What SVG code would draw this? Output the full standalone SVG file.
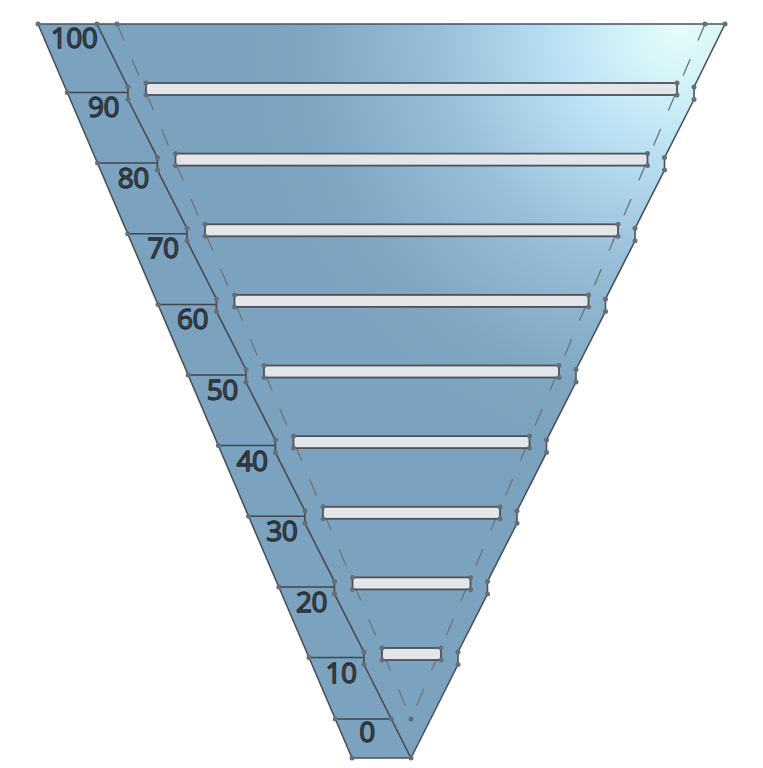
<svg xmlns="http://www.w3.org/2000/svg" width="763" height="768" viewBox="0 0 763 768">
<style>
.edge{stroke:#4a5158;stroke-width:1.6;stroke-linejoin:round}
.tick{stroke:#3f464d;stroke-width:1.5;fill:none}
.bar{fill:#e3e5e8;stroke:#4b5259;stroke-width:1.8}
.dash{stroke:#6e7479;stroke-width:1.3;fill:none;stroke-dasharray:18 20}
.dot{fill:#686e75}
.lbl{font-family:"Open Sans","Noto Sans",sans-serif;font-size:28px;fill:#4a545e;stroke:#262d34;stroke-width:1.3;text-anchor:middle;letter-spacing:-0.5px}
</style>
<defs>
<radialGradient id="glow" gradientUnits="userSpaceOnUse" cx="680" cy="30" r="440">
<stop offset="0" stop-color="#e6fbfb"/>
<stop offset="0.12" stop-color="#d3f3f8"/>
<stop offset="0.3" stop-color="#b7def3"/>
<stop offset="0.55" stop-color="#98bfd8"/>
<stop offset="0.85" stop-color="#7ea6c1"/>
<stop offset="1" stop-color="#7ba3bf"/>
</radialGradient>
</defs>
<g id="ruler">
<path class="edge" fill="#7ba3bf" d="M38,24 L97,24 L128,87 L128,99.5 L157.5,157.6 L157.5,170.1 L187,228.3 L187,240.8 L216.5,298.9 L216.5,311.4 L246,369.5 L246,382 L275.5,440.1 L275.5,452.6 L305,510.8 L305,523.3 L334.5,581.4 L334.5,593.9 L364,652 L364,664.5 L411,758 L352,758 Z"/>
<line class="tick" x1="67.3" y1="92.5" x2="128" y2="92.5"/>
<line class="tick" x1="97.5" y1="163.1" x2="157.5" y2="163.1"/>
<line class="tick" x1="127.8" y1="233.8" x2="187" y2="233.8"/>
<line class="tick" x1="158" y1="304.4" x2="216.5" y2="304.4"/>
<line class="tick" x1="188.2" y1="375" x2="246" y2="375"/>
<line class="tick" x1="218.4" y1="445.6" x2="275.5" y2="445.6"/>
<line class="tick" x1="248.6" y1="516.3" x2="305" y2="516.3"/>
<line class="tick" x1="278.8" y1="586.9" x2="334.5" y2="586.9"/>
<line class="tick" x1="309" y1="657.5" x2="364" y2="657.5"/>
<line class="tick" x1="335.3" y1="719" x2="391.4" y2="719"/>
<text class="lbl" x="74" y="48">100</text>
<text class="lbl" x="103.5" y="117">90</text>
<text class="lbl" x="133.2" y="187.7">80</text>
<text class="lbl" x="162.9" y="258.4">70</text>
<text class="lbl" x="192.6" y="329.1">60</text>
<text class="lbl" x="222.3" y="399.8">50</text>
<text class="lbl" x="252" y="470.5">40</text>
<text class="lbl" x="281.7" y="541.2">30</text>
<text class="lbl" x="311.4" y="611.9">20</text>
<text class="lbl" x="341.1" y="682.6">10</text>
<text class="lbl" x="367" y="742">0</text>
</g>
<g id="funnel">
<path class="edge" fill="url(#glow)" d="M97,24 L725,24 L694,87 L694,99.5 L664.5,157.6 L664.5,170.1 L635,228.3 L635,240.8 L605.5,298.9 L605.5,311.4 L576,369.5 L576,382 L546.5,440.1 L546.5,452.6 L517,510.8 L517,523.3 L487.5,581.4 L487.5,593.9 L458,652 L458,664.5 L411,758 L364,664.5 L364,652 L334.5,593.9 L334.5,581.4 L305,523.3 L305,510.8 L275.5,452.6 L275.5,440.1 L246,382 L246,369.5 L216.5,311.4 L216.5,298.9 L187,240.8 L187,228.3 L157.5,170.1 L157.5,157.6 L128,99.5 L128,87 Z"/>
</g>
<g id="connectors">
<line class="dash" x1="117" y1="24" x2="411" y2="719"/>
<line class="dash" x1="705" y1="24" x2="411" y2="719"/>
</g>
<g id="bars">
<rect id="bar90" class="bar" x="146" y="83" width="531" height="12"/>
<rect id="bar80" class="bar" x="175.5" y="153.6" width="472" height="12"/>
<rect id="bar70" class="bar" x="205" y="224.3" width="413" height="12"/>
<rect id="bar60" class="bar" x="234.5" y="294.9" width="354" height="12"/>
<rect id="bar50" class="bar" x="264" y="365.5" width="295" height="12"/>
<rect id="bar40" class="bar" x="293.5" y="436.1" width="236" height="12"/>
<rect id="bar30" class="bar" x="323" y="506.8" width="177" height="12"/>
<rect id="bar20" class="bar" x="352.5" y="577.4" width="118" height="12"/>
<rect id="bar10" class="bar" x="382" y="648" width="59" height="12"/>
</g>
<g id="dots">
<circle class="dot" cx="38" cy="24" r="2.5"/><circle class="dot" cx="97" cy="24" r="2.5"/><circle class="dot" cx="117" cy="24" r="2.5"/><circle class="dot" cx="705" cy="24" r="2.5"/><circle class="dot" cx="725" cy="24" r="2.5"/>
<circle class="dot" cx="411" cy="719" r="2.5"/><circle class="dot" cx="335.3" cy="719" r="2.5"/><circle class="dot" cx="391.4" cy="719" r="2.5"/><circle class="dot" cx="352" cy="758" r="2.5"/><circle class="dot" cx="411" cy="758" r="2.5"/>
<circle class="dot" cx="67.3" cy="92.5" r="2.5"/><circle class="dot" cx="97.5" cy="163.1" r="2.5"/><circle class="dot" cx="127.8" cy="233.8" r="2.5"/><circle class="dot" cx="158" cy="304.4" r="2.5"/><circle class="dot" cx="188.2" cy="375" r="2.5"/><circle class="dot" cx="218.4" cy="445.6" r="2.5"/><circle class="dot" cx="248.6" cy="516.3" r="2.5"/><circle class="dot" cx="278.8" cy="586.9" r="2.5"/><circle class="dot" cx="309" cy="657.5" r="2.5"/>
<circle class="dot" cx="128" cy="87" r="2.5"/><circle class="dot" cx="128" cy="99.5" r="2.5"/><circle class="dot" cx="694" cy="87" r="2.5"/><circle class="dot" cx="694" cy="99.5" r="2.5"/>
<circle class="dot" cx="157.5" cy="157.6" r="2.5"/><circle class="dot" cx="157.5" cy="170.1" r="2.5"/><circle class="dot" cx="664.5" cy="157.6" r="2.5"/><circle class="dot" cx="664.5" cy="170.1" r="2.5"/>
<circle class="dot" cx="187" cy="228.3" r="2.5"/><circle class="dot" cx="187" cy="240.8" r="2.5"/><circle class="dot" cx="635" cy="228.3" r="2.5"/><circle class="dot" cx="635" cy="240.8" r="2.5"/>
<circle class="dot" cx="216.5" cy="298.9" r="2.5"/><circle class="dot" cx="216.5" cy="311.4" r="2.5"/><circle class="dot" cx="605.5" cy="298.9" r="2.5"/><circle class="dot" cx="605.5" cy="311.4" r="2.5"/>
<circle class="dot" cx="246" cy="369.5" r="2.5"/><circle class="dot" cx="246" cy="382" r="2.5"/><circle class="dot" cx="576" cy="369.5" r="2.5"/><circle class="dot" cx="576" cy="382" r="2.5"/>
<circle class="dot" cx="275.5" cy="440.1" r="2.5"/><circle class="dot" cx="275.5" cy="452.6" r="2.5"/><circle class="dot" cx="546.5" cy="440.1" r="2.5"/><circle class="dot" cx="546.5" cy="452.6" r="2.5"/>
<circle class="dot" cx="305" cy="510.8" r="2.5"/><circle class="dot" cx="305" cy="523.3" r="2.5"/><circle class="dot" cx="517" cy="510.8" r="2.5"/><circle class="dot" cx="517" cy="523.3" r="2.5"/>
<circle class="dot" cx="334.5" cy="581.4" r="2.5"/><circle class="dot" cx="334.5" cy="593.9" r="2.5"/><circle class="dot" cx="487.5" cy="581.4" r="2.5"/><circle class="dot" cx="487.5" cy="593.9" r="2.5"/>
<circle class="dot" cx="364" cy="652" r="2.5"/><circle class="dot" cx="364" cy="664.5" r="2.5"/><circle class="dot" cx="458" cy="652" r="2.5"/><circle class="dot" cx="458" cy="664.5" r="2.5"/>
<circle class="dot" cx="146" cy="83" r="2.5"/><circle class="dot" cx="146" cy="95" r="2.5"/><circle class="dot" cx="677" cy="83" r="2.5"/><circle class="dot" cx="677" cy="95" r="2.5"/>
<circle class="dot" cx="175.5" cy="153.6" r="2.5"/><circle class="dot" cx="175.5" cy="165.6" r="2.5"/><circle class="dot" cx="647.5" cy="153.6" r="2.5"/><circle class="dot" cx="647.5" cy="165.6" r="2.5"/>
<circle class="dot" cx="205" cy="224.3" r="2.5"/><circle class="dot" cx="205" cy="236.3" r="2.5"/><circle class="dot" cx="618" cy="224.3" r="2.5"/><circle class="dot" cx="618" cy="236.3" r="2.5"/>
<circle class="dot" cx="234.5" cy="294.9" r="2.5"/><circle class="dot" cx="234.5" cy="306.9" r="2.5"/><circle class="dot" cx="588.5" cy="294.9" r="2.5"/><circle class="dot" cx="588.5" cy="306.9" r="2.5"/>
<circle class="dot" cx="264" cy="365.5" r="2.5"/><circle class="dot" cx="264" cy="377.5" r="2.5"/><circle class="dot" cx="559" cy="365.5" r="2.5"/><circle class="dot" cx="559" cy="377.5" r="2.5"/>
<circle class="dot" cx="293.5" cy="436.1" r="2.5"/><circle class="dot" cx="293.5" cy="448.1" r="2.5"/><circle class="dot" cx="529.5" cy="436.1" r="2.5"/><circle class="dot" cx="529.5" cy="448.1" r="2.5"/>
<circle class="dot" cx="323" cy="506.8" r="2.5"/><circle class="dot" cx="323" cy="518.8" r="2.5"/><circle class="dot" cx="500" cy="506.8" r="2.5"/><circle class="dot" cx="500" cy="518.8" r="2.5"/>
<circle class="dot" cx="352.5" cy="577.4" r="2.5"/><circle class="dot" cx="352.5" cy="589.4" r="2.5"/><circle class="dot" cx="470.5" cy="577.4" r="2.5"/><circle class="dot" cx="470.5" cy="589.4" r="2.5"/>
<circle class="dot" cx="382" cy="648" r="2.5"/><circle class="dot" cx="382" cy="660" r="2.5"/><circle class="dot" cx="441" cy="648" r="2.5"/><circle class="dot" cx="441" cy="660" r="2.5"/>
</g>
</svg>
